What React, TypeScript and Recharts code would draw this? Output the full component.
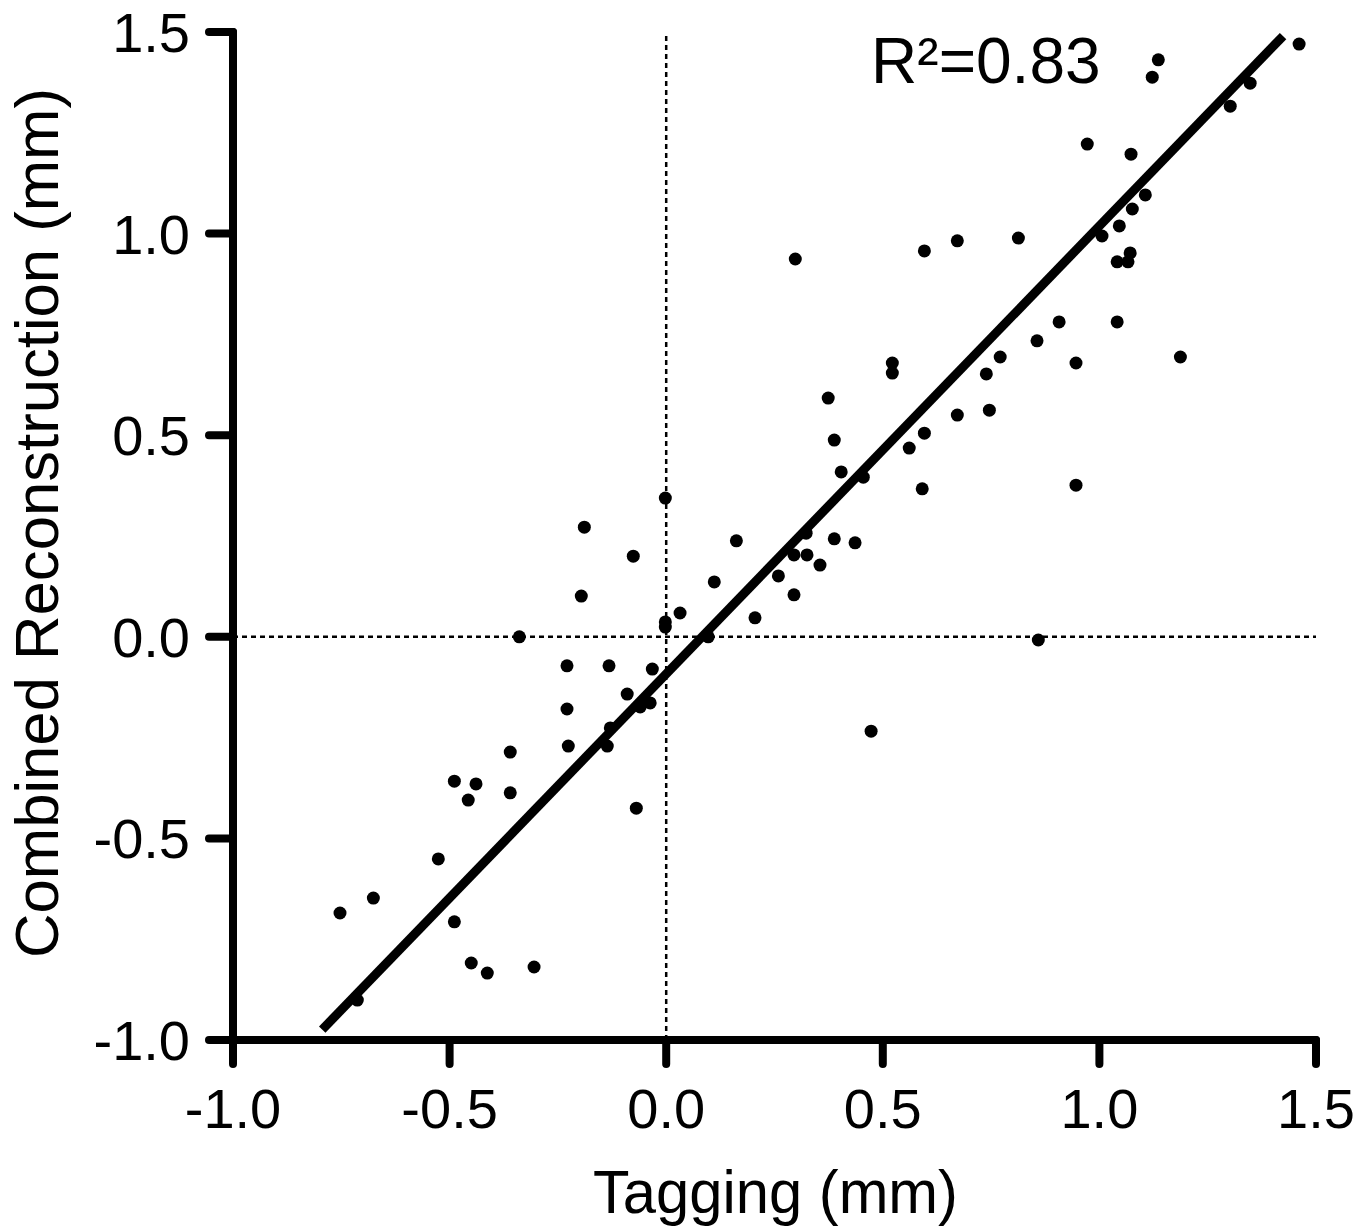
import React from 'react';
import { ScatterChart, Scatter, XAxis, YAxis, ReferenceLine, ReferenceDot } from 'recharts';

const tagging = [
  1.461, 1.136, 1.122, 1.348, 1.302, 0.972, 1.073, 1.106, 1.076, 1.046,
  1.006, 1.071, 1.066, 1.041, 0.813, 0.672, 0.596, 0.298, 1.041, 0.907,
  1.187, 0.856, 0.771, 0.739, 0.946, 0.522, 0.522, 0.746, 0.672, 0.374,
  0.388, 0.596, 0.561, 0.404, 0.455, 0.591, 0.946, -0.002, -0.189, 0.388,
  0.436, 0.162, -0.076, 0.323, 0.295, 0.325, 0.355, 0.259, 0.111, -0.196,
  0.295, 0.032, 0.205, -0.002, -0.002, -0.339, 0.097, 0.859, -0.229, -0.132,
  -0.032, -0.09, -0.229, -0.037, -0.06, -0.129, 0.473, -0.226, -0.136, -0.36,
  -0.489, -0.439, -0.36, -0.457, -0.069, -0.526, -0.676, -0.753, -0.489, -0.45,
  -0.413, -0.305, -0.713,
];

const combined = [
  1.47, 1.431, 1.388, 1.373, 1.316, 1.222, 1.197, 1.096, 1.061, 1.019,
  0.994, 0.952, 0.93, 0.93, 0.989, 0.982, 0.957, 0.937, 0.781, 0.781,
  0.694, 0.734, 0.694, 0.652, 0.679, 0.679, 0.654, 0.562, 0.55, 0.592,
  0.488, 0.505, 0.468, 0.409, 0.396, 0.367, 0.376, 0.344, 0.272, 0.243,
  0.233, 0.238, 0.2, 0.257, 0.203, 0.203, 0.178, 0.151, 0.136, 0.101,
  0.104, 0.059, 0.047, 0.037, 0.024, 0.0, 0.0, -0.008, -0.072, -0.072,
  -0.08, -0.142, -0.179, -0.164, -0.174, -0.226, -0.234, -0.271, -0.271, -0.286,
  -0.358, -0.365, -0.387, -0.405, -0.425, -0.551, -0.648, -0.685, -0.707, -0.809,
  -0.834, -0.819, -0.901,
];

const xTicks = [-1.0, -0.5, 0.0, 0.5, 1.0, 1.5];
const yTicks = [-1.0, -0.5, 0.0, 0.5, 1.0, 1.5];

const fitRange = [-0.794, 1.424];
const fitSlope = 1.111;
const fitIntercept = -0.092;

const r2Label = 'R\u00B2=0.83';
const r2Anchor = { x: 0.473, y: 1.3735 };

const xTitle = 'Tagging (mm)';
const yTitle = 'Combined Reconstruction (mm)';

const points = tagging.map((x, i) => ({ x, y: combined[i] }));
const fitSegment = fitRange.map((x) => ({ x, y: fitSlope * x + fitIntercept }));

const FONT = '"Liberation Sans", Arial, Helvetica, sans-serif';

const renderDot = (props: any) => {
  const { cx, cy } = props;
  if (cx == null || cy == null) return null;
  return <circle cx={cx} cy={cy} r={6.5} fill="#000" />;
};

const XTick = (props: any) => {
  const { x, y, payload } = props;
  return (
    <text x={x} y={y} dy={60} textAnchor="middle" fontFamily={FONT} fontSize={56} fill="#000">
      {Number(payload.value).toFixed(1)}
    </text>
  );
};

const YTick = (props: any) => {
  const { x, y, payload } = props;
  return (
    <text x={x} y={y} dy={20} textAnchor="end" fontFamily={FONT} fontSize={56} fill="#000">
      {Number(payload.value).toFixed(1)}
    </text>
  );
};

const XTitle = (props: any) => {
  const vb = props.viewBox || {};
  const cx = vb.x + vb.width / 2 + 1;
  return (
    <text
      x={cx}
      y={vb.y + 173}
      textAnchor="middle"
      fontFamily={FONT}
      fontSize={62}
      fill="#000"
      textLength={365}
      lengthAdjust="spacingAndGlyphs"
    >
      {xTitle}
    </text>
  );
};

const YTitle = (props: any) => {
  const vb = props.viewBox || {};
  const cx = vb.x - 55;
  const cy = vb.y + vb.height / 2 - 13;
  return (
    <text
      x={cx}
      y={cy}
      transform={`rotate(-90, ${cx}, ${cy})`}
      textAnchor="middle"
      fontFamily={FONT}
      fontSize={62}
      fill="#000"
      textLength={870}
      lengthAdjust="spacingAndGlyphs"
    >
      {yTitle}
    </text>
  );
};

const R2Text = (props: any) => {
  const vb = props.viewBox || {};
  return (
    <text x={vb.x} y={vb.y} textAnchor="start" fontFamily={FONT} fontSize={64} fill="#000">
      {r2Label}
    </text>
  );
};

const axisLineStyle = { stroke: '#000', strokeWidth: 8, strokeLinecap: 'round' as const };

export default function App() {
  return (
    <div style={{ position: 'absolute', left: 0, top: 0, width: 1372, height: 1228, background: '#fff' }}>
      <ScatterChart
        width={1372}
        height={1228}
        margin={{ top: 32, right: 56, bottom: 88, left: 113 }}
      >
        <XAxis
          type="number"
          dataKey="x"
          domain={[-1, 1.5]}
          ticks={xTicks}
          allowDataOverflow
          height={100}
          tickSize={24}
          tickMargin={4}
          axisLine={axisLineStyle}
          tickLine={axisLineStyle}
          tick={<XTick />}
          label={{ value: xTitle, content: <XTitle /> }}
        />
        <YAxis
          type="number"
          dataKey="y"
          domain={[-1, 1.5]}
          ticks={yTicks}
          allowDataOverflow
          width={120}
          tickSize={24}
          tickMargin={19}
          axisLine={axisLineStyle}
          tickLine={axisLineStyle}
          tick={<YTick />}
          label={{ value: yTitle, content: <YTitle /> }}
        />
        <ReferenceLine x={0} stroke="#000" strokeWidth={2.5} strokeDasharray="5 4" />
        <ReferenceLine y={0} stroke="#000" strokeWidth={2.5} strokeDasharray="5 4" />
        <ReferenceLine segment={fitSegment} stroke="#000" strokeWidth={9} />
        <Scatter data={points} isAnimationActive={false} shape={renderDot} />
        <ReferenceDot
          x={r2Anchor.x}
          y={r2Anchor.y}
          r={0}
          fill="none"
          stroke="none"
          label={{ value: r2Label, content: <R2Text /> }}
        />
      </ScatterChart>
    </div>
  );
}
